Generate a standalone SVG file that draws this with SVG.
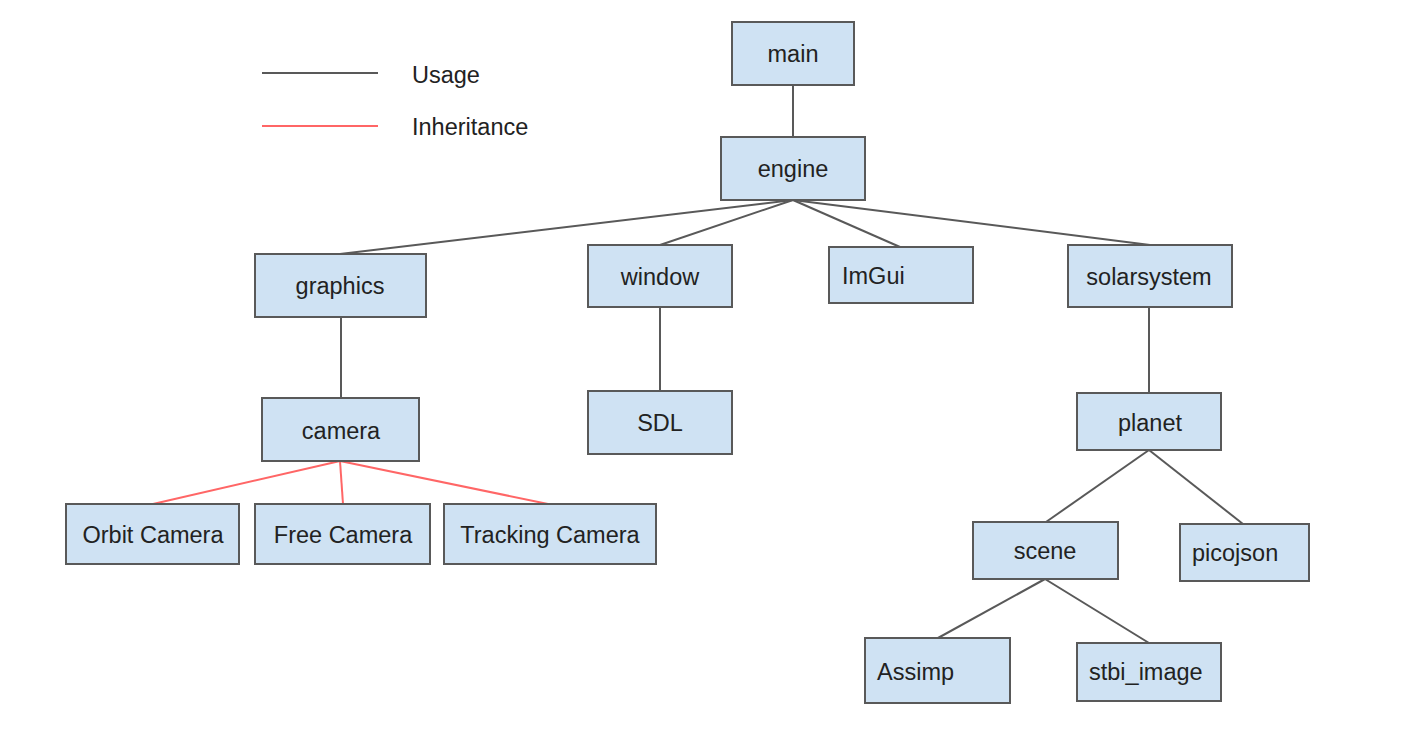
<svg xmlns="http://www.w3.org/2000/svg" width="1409" height="741" viewBox="0 0 1409 741">
<style>
.box{fill:#cfe2f3;stroke:#595959;stroke-width:2}
.t{font-family:"Liberation Sans",Arial,sans-serif;font-size:23.5px;fill:#222;dominant-baseline:central}
.c{text-anchor:middle}
.u{stroke:#595959;stroke-width:2;fill:none}
.i{stroke:#ff6666;stroke-width:2;fill:none}
</style>
<rect width="1409" height="741" fill="#fff"/>
<g id="legend">
<line class="u" x1="262" y1="73" x2="378" y2="73"/>
<text class="t" x="412" y="75">Usage</text>
<line class="i" x1="262" y1="126" x2="378" y2="126"/>
<text class="t" x="412" y="127">Inheritance</text>
</g>
<g id="connectors">
<line class="u" x1="793" y1="85" x2="793" y2="137"/>
<line class="u" x1="793" y1="200" x2="340" y2="254"/>
<line class="u" x1="793" y1="200" x2="660" y2="245"/>
<line class="u" x1="793" y1="200" x2="900" y2="247"/>
<line class="u" x1="793" y1="200" x2="1150" y2="245"/>
<line class="u" x1="341" y1="317" x2="341" y2="398"/>
<line class="u" x1="660" y1="307" x2="660" y2="391"/>
<line class="u" x1="1149" y1="307" x2="1149" y2="393"/>
<line class="i" x1="340" y1="461" x2="153" y2="504"/>
<line class="i" x1="340" y1="461" x2="343" y2="504"/>
<line class="i" x1="340" y1="461" x2="548" y2="504"/>
<line class="u" x1="1149" y1="450" x2="1046" y2="522"/>
<line class="u" x1="1149" y1="450" x2="1243" y2="524"/>
<line class="u" x1="1045" y1="579" x2="938" y2="638"/>
<line class="u" x1="1045" y1="579" x2="1149" y2="643"/>
</g>
<g id="main"><rect class="box" x="732" y="22" width="122" height="63"/><text class="t c" x="793" y="54">main</text></g>
<g id="engine"><rect class="box" x="721" y="137" width="144" height="63"/><text class="t c" x="793" y="169">engine</text></g>
<g id="graphics"><rect class="box" x="255" y="254" width="171" height="63"/><text class="t c" x="340" y="286">graphics</text></g>
<g id="window"><rect class="box" x="588" y="245" width="144" height="62"/><text class="t c" x="660" y="277">window</text></g>
<g id="imgui"><rect class="box" x="829" y="247" width="144" height="56"/><text class="t" x="842" y="276">ImGui</text></g>
<g id="solarsystem"><rect class="box" x="1068" y="245" width="164" height="62"/><text class="t c" x="1149" y="277">solarsystem</text></g>
<g id="camera"><rect class="box" x="262" y="398" width="157" height="63"/><text class="t c" x="341" y="431">camera</text></g>
<g id="sdl"><rect class="box" x="588" y="391" width="144" height="63"/><text class="t c" x="660" y="423">SDL</text></g>
<g id="planet"><rect class="box" x="1077" y="393" width="144" height="57"/><text class="t c" x="1150" y="423">planet</text></g>
<g id="orbit-camera"><rect class="box" x="66" y="504" width="173" height="60"/><text class="t c" x="153" y="535">Orbit Camera</text></g>
<g id="free-camera"><rect class="box" x="255" y="504" width="175" height="60"/><text class="t c" x="343" y="535">Free Camera</text></g>
<g id="tracking-camera"><rect class="box" x="444" y="504" width="212" height="60"/><text class="t c" x="550" y="535">Tracking Camera</text></g>
<g id="scene"><rect class="box" x="973" y="522" width="145" height="57"/><text class="t c" x="1045" y="551">scene</text></g>
<g id="picojson"><rect class="box" x="1180" y="524" width="129" height="57"/><text class="t" x="1192" y="553">picojson</text></g>
<g id="assimp"><rect class="box" x="865" y="638" width="145" height="65"/><text class="t" x="877" y="672">Assimp</text></g>
<g id="stbi_image"><rect class="box" x="1077" y="643" width="144" height="58"/><text class="t" x="1089" y="672">stbi_image</text></g>
</svg>
